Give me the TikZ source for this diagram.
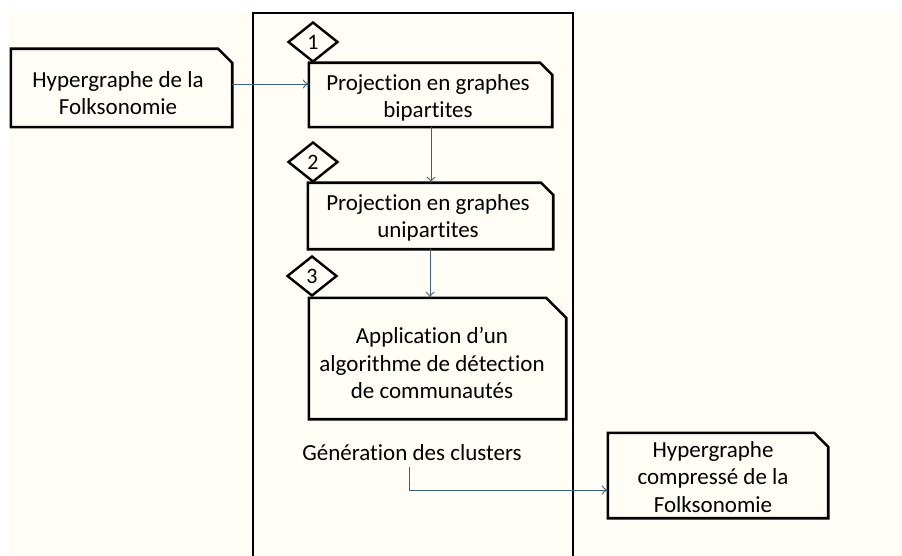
\documentclass[tikz,border=0pt]{standalone}
\usepackage{fontspec}
\setmainfont{Carlito}[Ligatures=NoCommon]
\usetikzlibrary{shapes.geometric,arrows.meta}
\definecolor{cream}{HTML}{FFFDF5}
\definecolor{arrowc}{HTML}{3D6178}
\begin{document}
\begin{tikzpicture}[x=1pt,y=-1pt,
  txt/.style={inner sep=0pt, align=center, font=\fontsize{23}{27.5}\selectfont},
  boxln/.style={line width=2.6pt, line join=miter},
  num/.style={diamond, draw, line width=2.4pt, fill=cream, minimum width=50pt, minimum height=40pt, inner sep=0pt, font=\fontsize{22}{25}\selectfont},
  conn/.style={draw=arrowc, line width=0.9pt, -{To[length=6pt,width=9pt]}}
]
\useasboundingbox (0,0) rectangle (902,556);
\fill[white] (0,0) rectangle (902,556);
\fill[cream] (9,11) rectangle (902,556);
% frame
\draw[line width=2.8pt] (253,556) -- (253,13) -- (573,13) -- (573,556);
% boxes
\node[txt, minimum width=221pt, minimum height=78pt] (A) at (121.5,88) {};
\node[txt] (At) at (118,93) {Hypergraphe de la\\Folksonomie};
\node[txt, minimum width=243pt, minimum height=64pt] (B) at (430.5,95) {};
\node[txt] (Bt) at (428,98) {Projection en graphes\\bipartites};
\node[txt, minimum width=245pt, minimum height=66pt] (C) at (430.5,216) {};
\node[txt] (Ct) at (428,218) {Projection en graphes\\unipartites};
\node[txt, minimum width=257pt, minimum height=121pt] (D) at (437.5,358.5) {};
\node[txt] (Dt) at (432,363) {Application d’un\\algorithme de détection\\de communautés};
\node[txt, minimum width=220pt, minimum height=85pt] (E) at (718,475.5) {};
\node[txt] (Et) at (713,477) {Hypergraphe\\compressé de la\\Folksonomie};
\node[txt] (G) at (412,453) {Génération des clusters};
\foreach \n/\c in {A/14,B/12,C/12,D/20,E/14}{
  \draw[boxln] (\n.south west) -- (\n.north west) -- ([xshift=-\c pt]\n.north east) -- ([yshift=-\c pt]\n.north east) -- (\n.south east) -- cycle;
}
% diamonds
\node[num] (n1) at (313,42) {1};
\node[num] (n2) at (313,162) {2};
\node[num] (n3) at (312,276) {3};
% connectors
\draw[conn] (A.east |- 0,84) -- (B.west |- 0,84);
\draw[conn] (B.south -| 431,0) -- (C.north -| 431,0);
\draw[conn] (C.south -| 430,0) -- (D.north -| 430,0);
\coordinate (g0) at (409,467);
\draw[conn] (g0) -- (409,490) -- (E.west |- 0,490);
\end{tikzpicture}
\end{document}
